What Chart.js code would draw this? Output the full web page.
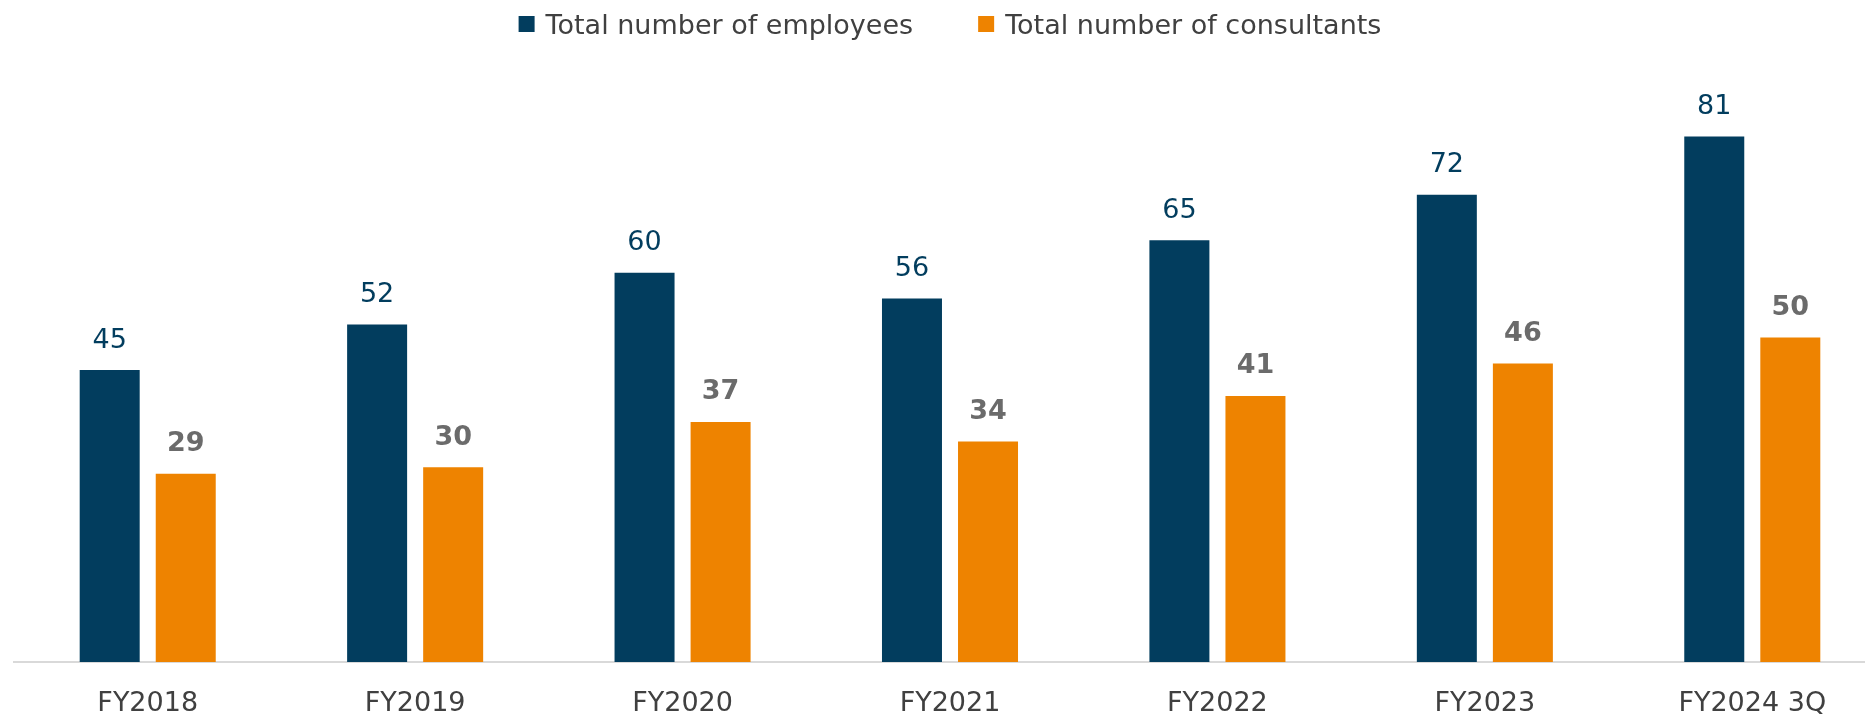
<!DOCTYPE html>
<html>
<head>
<meta charset="utf-8">
<title>Employees and consultants</title>
<script src="https://cdn.jsdelivr.net/npm/chart.js@4.4.1/dist/chart.umd.min.js"></script>
<style>
  html, body { margin: 0; padding: 0; background: #fff; overflow: hidden; }
  #wrap { position: relative; width: 1886px; height: 715px; }
</style>
</head>
<body>
<div id="wrap"><canvas id="headcount"></canvas></div>
<script>
var categories = ["FY2018", "FY2019", "FY2020", "FY2021", "FY2022", "FY2023", "FY2024 3Q"];
var employees = [45, 52, 60, 56, 65, 72, 81];
var consultants = [29, 30, 37, 34, 41, 46, 50];
var seriesNames = ["Total number of employees", "Total number of consultants"];

var NAVY = "#023D5E";
var ORANGE = "#EE8300";
var TEXT = "#404040";
var FONT = "'DejaVu Sans', Verdana, sans-serif";

// value labels above each bar, one style per dataset
var valueLabels = {
  id: "valueLabels",
  afterDatasetsDraw: function (chart) {
    var ctx = chart.ctx;
    chart.data.datasets.forEach(function (ds, i) {
      var meta = chart.getDatasetMeta(i);
      ctx.save();
      ctx.font = ds.labelWeight + " 27px " + FONT;
      ctx.fillStyle = ds.labelColor;
      ctx.textAlign = "center";
      ctx.textBaseline = "alphabetic";
      meta.data.forEach(function (bar, j) {
        ctx.fillText(String(ds.data[j]), bar.x, bar.y - 22.5);
      });
      ctx.restore();
    });
  }
};

// legend row drawn by hand so the spacing between entries can be wide
var topLegend = {
  id: "topLegend",
  afterDraw: function (chart) {
    var ctx = chart.ctx;
    var box = 16, gap = 11, spacing = 65;
    ctx.save();
    ctx.font = "27px " + FONT;
    var items = chart.data.datasets.map(function (ds) {
      return { text: ds.label, color: ds.backgroundColor, w: ctx.measureText(ds.label).width };
    });
    var total = 0;
    items.forEach(function (it, i) {
      total += box + gap + it.w + (i > 0 ? spacing : 0);
    });
    var area = chart.chartArea;
    var x = (area.left + area.right) / 2 - total / 2;
    items.forEach(function (it) {
      ctx.fillStyle = it.color;
      ctx.fillRect(x, 16, box, box);
      ctx.fillStyle = TEXT;
      ctx.textAlign = "left";
      ctx.textBaseline = "alphabetic";
      ctx.fillText(it.text, x + box + gap, 33.5);
      x += box + gap + it.w + spacing;
    });
    ctx.restore();
  }
};

var chart = new Chart(document.getElementById("headcount"), {
  type: "bar",
  data: {
    labels: categories,
    datasets: [{
      label: seriesNames[0],
      data: employees,
      backgroundColor: NAVY,
      labelColor: NAVY,
      labelWeight: "normal"
    }, {
      label: seriesNames[1],
      data: consultants,
      backgroundColor: ORANGE,
      labelColor: "#6B6B6B",
      labelWeight: "bold"
    }]
  },
  options: {
    responsive: true,
    maintainAspectRatio: false,
    animation: false,
    devicePixelRatio: 1,
    categoryPercentage: 0.5687,
    barPercentage: 0.789,
    layout: { padding: { left: 14, right: 0, top: 78, bottom: 0 } },
    plugins: {
      legend: { display: false },
      tooltip: { enabled: false }
    },
    scales: {
      x: {
        grid: { display: false, drawTicks: false },
        border: { display: true, color: "#D9D9D9", width: 2 },
        ticks: {
          color: TEXT,
          padding: 26,
          maxRotation: 0,
          font: { family: FONT, size: 27 }
        },
        // keep the label band a fixed height below the baseline
        afterFit: function (scale) {
          scale.height = 53;
        }
      },
      y: {
        display: false,
        min: 0,
        max: 90
      }
    }
  },
  plugins: [valueLabels, topLegend]
});
</script>
</body>
</html>
